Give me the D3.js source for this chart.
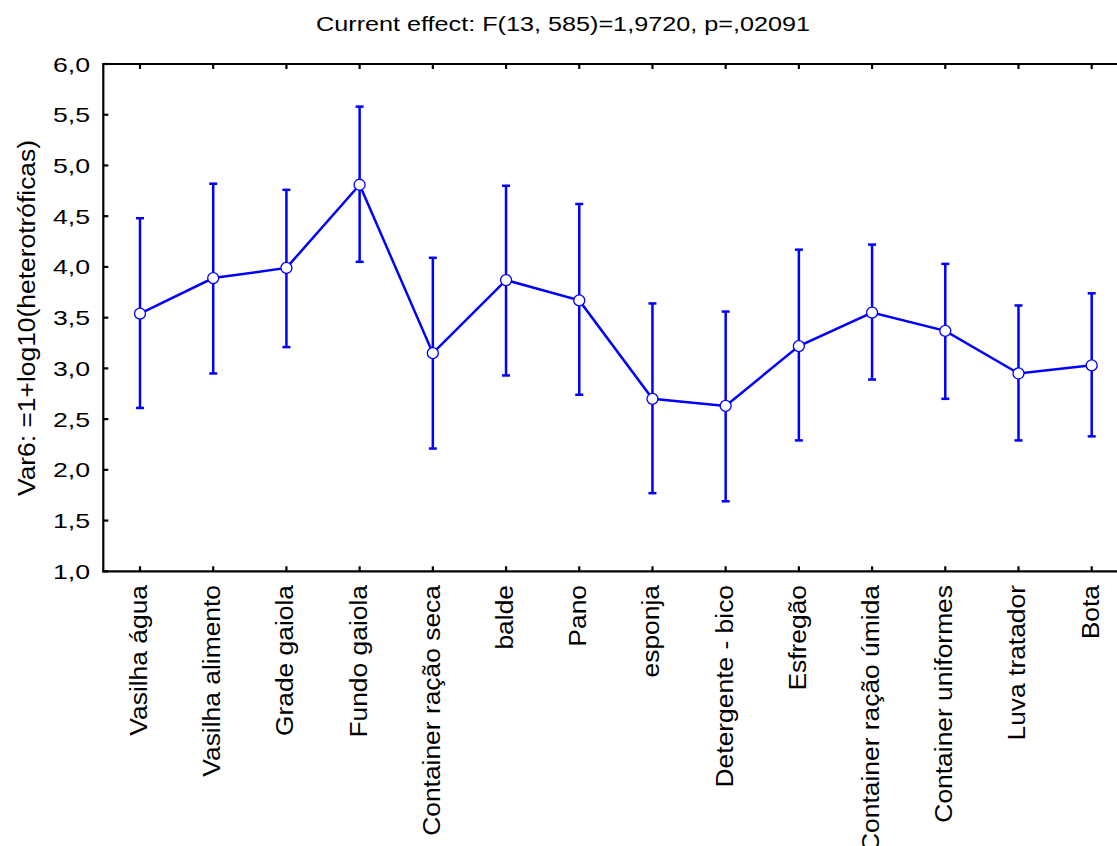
<!DOCTYPE html>
<html>
<head>
<meta charset="utf-8">
<script src="https://cdn.jsdelivr.net/npm/d3@7"></script>
<style>
  html, body { margin: 0; padding: 0; background: #fff; }
  text { font-family: "Liberation Sans", Arial, sans-serif; fill: #000; }
</style>
</head>
<body>
<svg id="chart" width="1117" height="846"></svg>
<script>
const categories = ["Vasilha água", "Vasilha alimento", "Grade gaiola", "Fundo gaiola",
  "Container ração seca", "balde", "Pano", "esponja", "Detergente - bico", "Esfregão",
  "Container ração úmida", "Container uniformes", "Luva tratador", "Bota"];
const means = [3.54, 3.89, 3.99, 4.81, 3.15, 3.87, 3.67, 2.70, 2.63, 3.22, 3.55, 3.37, 2.95, 3.03];
const upper = [4.48, 4.82, 4.76, 5.58, 4.09, 4.80, 4.62, 3.64, 3.56, 4.17, 4.22, 4.03, 3.62, 3.74];
const lower = [2.61, 2.95, 3.21, 4.05, 2.21, 2.93, 2.74, 1.77, 1.69, 2.29, 2.89, 2.70, 2.29, 2.33];
const yTicks = [1.0, 1.5, 2.0, 2.5, 3.0, 3.5, 4.0, 4.5, 5.0, 5.5, 6.0];
const titleText = "Current effect: F(13, 585)=1,9720, p=,02091";
const yLabel = "Var6: =1+log10(heterotróficas)";

const svg = d3.select("#chart");
const pLeft = 103.3, pTop = 64, pBottom = 571.3, pRight = 1130;
const blue = "#0000ff";

const x = d3.scalePoint().domain(categories).range([140, 1091.7]);
const y = d3.scaleLinear().domain([1, 6]).range([pBottom, pTop]);
const fmt = v => d3.format(".1f")(v).replace(".", ",");

// Title
svg.append("text")
  .attr("transform", "translate(563,31) scale(1.2,1)")
  .attr("text-anchor", "middle")
  .style("font-size", "21px")
  .text(titleText);

// Axes frame
const axisG = svg.append("g").attr("stroke", "#000").attr("stroke-width", 2.2).attr("fill", "none");
axisG.append("line").attr("x1", pLeft).attr("x2", pLeft).attr("y1", pTop - 1).attr("y2", pBottom + 1);
axisG.append("line").attr("x1", pLeft - 1).attr("x2", pRight).attr("y1", pTop).attr("y2", pTop);
axisG.append("line").attr("x1", pLeft - 1).attr("x2", pRight).attr("y1", pBottom).attr("y2", pBottom);

// Y ticks (inside)
axisG.selectAll(".yt").data(yTicks).join("line")
  .attr("x1", pLeft).attr("x2", pLeft + 5)
  .attr("y1", d => y(d)).attr("y2", d => y(d));
// X ticks top and bottom (inside)
axisG.selectAll(".xtt").data(categories).join("line")
  .attr("x1", d => x(d)).attr("x2", d => x(d))
  .attr("y1", pTop).attr("y2", pTop + 5);
axisG.selectAll(".xtb").data(categories).join("line")
  .attr("x1", d => x(d)).attr("x2", d => x(d))
  .attr("y1", pBottom).attr("y2", pBottom - 5);

// Y tick labels
svg.selectAll(".ylab").data(yTicks).join("text")
  .attr("transform", d => `translate(90,${y(d) + 7.5}) scale(1.27,1)`)
  .attr("text-anchor", "end")
  .style("font-size", "21px")
  .text(d => fmt(d));

// Y axis title
svg.append("text")
  .attr("transform", "translate(35,318) rotate(-90) scale(1.1,1)")
  .attr("text-anchor", "middle")
  .style("font-size", "24px")
  .text(yLabel);

// Category labels
svg.selectAll(".xlab").data(categories).join("text")
  .attr("transform", d => `translate(${x(d) + 7},585) rotate(-90) scale(1.1,1)`)
  .attr("text-anchor", "end")
  .style("font-size", "24px")
  .text(d => d);

// Error bars
const eb = svg.append("g").attr("stroke", blue).attr("stroke-width", 2.5).attr("fill", "none");
categories.forEach((c, i) => {
  eb.append("line").attr("x1", x(c)).attr("x2", x(c)).attr("y1", y(lower[i])).attr("y2", y(upper[i]));
  eb.append("line").attr("x1", x(c) - 4).attr("x2", x(c) + 4).attr("y1", y(lower[i])).attr("y2", y(lower[i]));
  eb.append("line").attr("x1", x(c) - 4).attr("x2", x(c) + 4).attr("y1", y(upper[i])).attr("y2", y(upper[i]));
});

// Mean line
const line = d3.line().x((d, i) => x(categories[i])).y(d => y(d));
svg.append("path").datum(means)
  .attr("d", line)
  .attr("fill", "none").attr("stroke", blue).attr("stroke-width", 2.5);

// Markers
svg.selectAll(".pt").data(means).join("circle")
  .attr("cx", (d, i) => x(categories[i])).attr("cy", d => y(d))
  .attr("r", 5.5).attr("fill", "#fff").attr("stroke", blue).attr("stroke-width", 1.3);
</script>
</body>
</html>
